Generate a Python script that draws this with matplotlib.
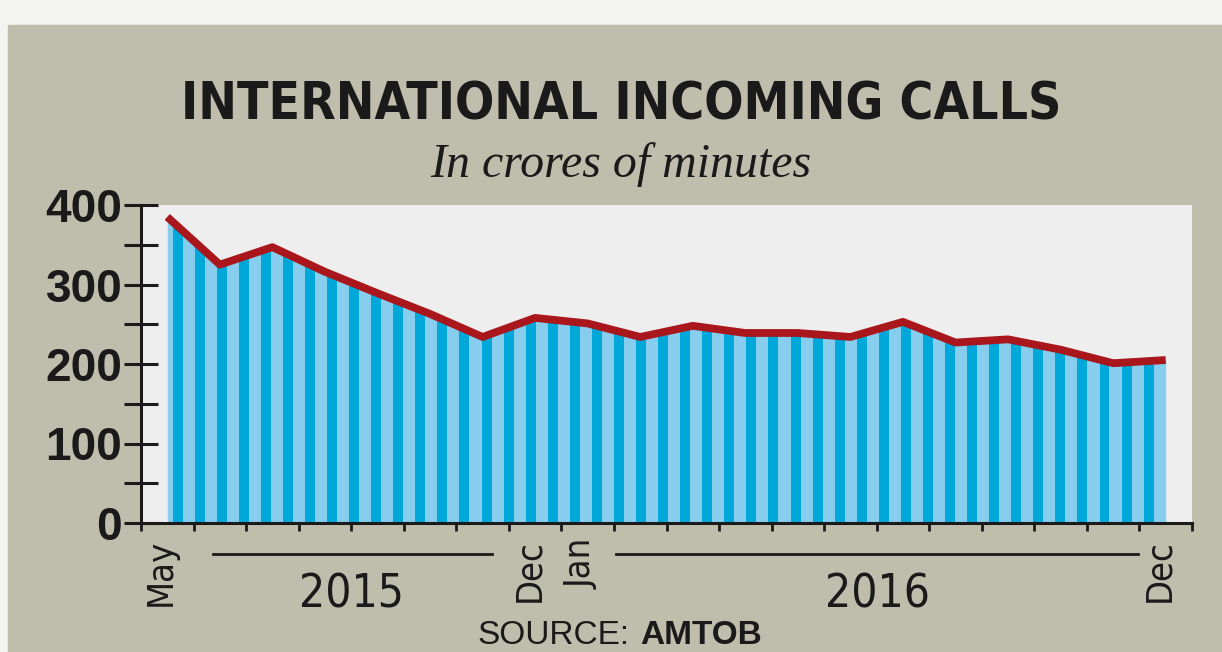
import matplotlib
matplotlib.use("Agg")
import matplotlib.pyplot as plt
import numpy as np
from matplotlib.patches import Rectangle
from matplotlib.lines import Line2D

# data: monthly international incoming calls, crores of minutes (May 2015 - Dec 2016)
months = ["May", "Jun", "Jul", "Aug", "Sep", "Oct", "Nov", "Dec",
          "Jan", "Feb", "Mar", "Apr", "May", "Jun", "Jul", "Aug",
          "Sep", "Oct", "Nov", "Dec"]
calls = [385, 325, 347, 316, 289, 263, 234, 258,
         251, 234, 248, 239, 239, 234, 253, 227,
         231, 218, 201, 205]
labelled = {0: "May", 7: "Dec", 8: "Jan", 19: "Dec"}
yticks = [0, 100, 200, 300, 400]

W, H = 1222, 652
NARROW = ["DejaVu Sans"]
SANS = ["Liberation Sans", "DejaVu Sans"]
INK = "#1a1a1a"

fig = plt.figure(figsize=(W / 100, H / 100), dpi=100)
fig.patch.set_facecolor("#f3f3f1")
# beige panel
fig.patches.append(Rectangle((8 / W, 0), 1 - 8 / W, 1 - 25 / H,
                             transform=fig.transFigure, color="#bfbead", zorder=-5))

ax = fig.add_axes([141 / W, 1 - 523 / H, (1192 - 141) / W, (523 - 205) / H])
ax.set_facecolor("#eeeeee")

x = np.arange(len(calls))
area = ax.fill_between(x, 0, calls, color="#86cdee", lw=0, zorder=2)

# vertical stripes, clipped to the area
clip = area.get_paths()[0]
stripes = ax.bar(np.arange(0.1, len(calls) - 1, 0.42), 400, width=0.19,
                 align="edge", color="#00a7d9", lw=0, zorder=3)
for b in stripes:
    b.set_clip_path(clip, ax.transData)

ax.plot(x, calls, color="#a9161c", lw=5.6, solid_joinstyle="round",
        solid_capstyle="butt", zorder=4)

ax.set_xlim(-0.5, len(calls) - 0.5)
ax.set_ylim(0, 400)
for s in ["top", "right"]:
    ax.spines[s].set_visible(False)
for s in ["left", "bottom"]:
    ax.spines[s].set_linewidth(2.2)
    ax.spines[s].set_color(INK)
    ax.spines[s].set_zorder(5)

ax.set_yticks(yticks)
ax.set_yticks(np.arange(50, 400, 100), minor=True)
ax.set_yticklabels([str(v) for v in yticks], fontfamily=SANS,
                   fontweight="bold", fontsize=33, color=INK)
ax.tick_params(axis="y", which="both", direction="inout", length=25,
               width=2.2, color=INK, pad=1)
ax.set_xticks(np.arange(-0.5, len(calls), 1.0))
ax.set_xticklabels([])
ax.tick_params(axis="x", direction="out", length=6, width=2, color=INK)

# month labels, rotated
for i, lab in labelled.items():
    ax.text(i - 0.12, -0.05, lab, transform=ax.get_xaxis_transform(), rotation=90,
            ha="center", va="top", fontfamily=NARROW, stretch="condensed",
            fontsize=26, color=INK)

# year labels with rules
fig.add_artist(Line2D([213 / W, 492 / W], [1 - 554 / H] * 2, color=INK, lw=2))
fig.add_artist(Line2D([616 / W, 1138 / W], [1 - 554 / H] * 2, color=INK, lw=2))
fig.text(352 / W, 1 - 607 / H, "2015", ha="center", va="baseline",
         fontfamily=NARROW, stretch="condensed", fontsize=33, color=INK)
fig.text(878 / W, 1 - 607 / H, "2016", ha="center", va="baseline",
         fontfamily=NARROW, stretch="condensed", fontsize=33, color=INK)

fig.text(621 / W, 1 - 120 / H, "INTERNATIONAL INCOMING CALLS", ha="center",
         va="baseline", fontfamily=NARROW, stretch="condensed", fontweight="bold",
         fontsize=37, color=INK)
fig.text(621 / W, 1 - 177 / H, "In crores of minutes", ha="center",
         va="baseline", fontfamily=["Liberation Serif", "DejaVu Serif"],
         style="italic", fontsize=34.5, color=INK)
fig.text(629 / W, 1 - 644 / H, "SOURCE:", ha="right", va="baseline",
         fontfamily=SANS, fontsize=24, color=INK)
fig.text(640 / W, 1 - 644 / H, "AMTOB", ha="left", va="baseline",
         fontfamily=SANS, fontweight="bold", fontsize=24, color=INK)

fig.savefig("out.png", dpi=100, facecolor=fig.get_facecolor())
